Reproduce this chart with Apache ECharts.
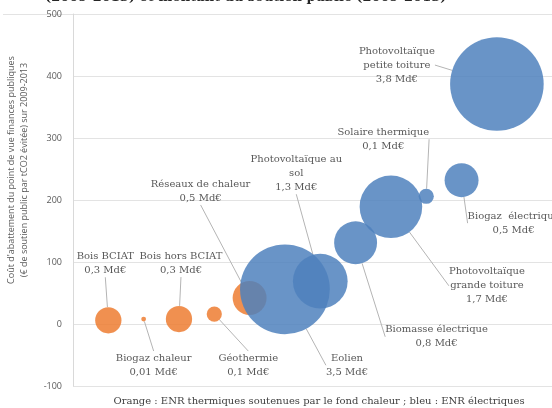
<!DOCTYPE html>
<html>
<head>
<meta charset="utf-8">
<script src="https://cdn.jsdelivr.net/npm/echarts@6/dist/echarts.min.js"></script>
<style>
  html, body { margin: 0; padding: 0; background: #fff; }
  #chart { width: 552px; height: 408px; }
</style>
</head>
<body>
<div id="chart"></div>
<script>
// filières, dans l'ordre de l'axe horizontal
const filieres = [
    'Bois BCIAT', 'Biogaz chaleur', 'Bois hors BCIAT', 'Géothermie', 'Réseaux de chaleur',
    'Eolien', 'Photovoltaïque au\nsol', 'Biomasse électrique', 'Photovoltaïque\ngrande toiture',
    'Solaire thermique', 'Biogaz  électrique', 'Photovoltaïque\npetite toiture'
];
const rang = [1, 2, 3, 4, 5, 6, 7, 8, 9, 10, 11, 12];
// coût d'abattement (€ / tCO2 évitée)
const coutAbattement = [6, 8, 8, 16, 42, 56, 69, 131, 189, 206, 232, 387];
// montant du soutien public (Md€) -> taille des bulles
const montants = [0.3, 0.01, 0.3, 0.1, 0.5, 3.5, 1.3, 0.8, 1.7, 0.1, 0.5, 3.8];
// 'chaleur' = ENR thermiques (orange), 'elec' = ENR électriques (bleu)
const familles = ['chaleur', 'chaleur', 'chaleur', 'chaleur', 'chaleur',
    'elec', 'elec', 'elec', 'elec', 'elec', 'elec', 'elec'];

// décalage des étiquettes par rapport au centre des bulles (px)
const decalages = [
    [-3, -57], [10, 46], [2, -56], [34, 51], [-49, -107], [62, 76],
    [-24, -108], [81, 94], [96, 79], [-43, -57], [52, 43], [-100, -19]
];

const couleurs = { chaleur: '#ED7D31', elec: '#4F81BD' };

const myChart = echarts.init(document.getElementById('chart'));

const donnees = filieres.map(function (nom, i) {
    return {
        name: nom,
        value: [rang[i], coutAbattement[i], montants[i]],
        itemStyle: { color: couleurs[familles[i]] }
    };
});

const option = {
    animation: false,
    title: [
        {
            text: '(2009-2013) et montant du soutien public (2009-2013)',
            left: 40,
            top: -14,
            textStyle: { fontFamily: 'DejaVu Serif', fontSize: 13, fontWeight: 'bold', color: '#262626' }
        },
        {
            text: 'Orange : ENR thermiques soutenues par le fond chaleur ; bleu : ENR électriques',
            left: 314,
            textAlign: 'center',
            top: 391,
            textStyle: { fontFamily: 'DejaVu Serif', fontSize: 10, fontWeight: 'normal', color: '#404040' }
        }
    ],
    graphic: [
        {
            type: 'line',
            shape: { x1: 3, y1: 14.5, x2: 73, y2: 14.5 },
            style: { stroke: '#E3E3E3', lineWidth: 1 }
        },
        {
            type: 'text',
            x: 11, y: 170, rotation: Math.PI / 2,
            style: {
                text: 'Coût d\'abattement du point de vue finances publiques',
                align: 'center', verticalAlign: 'middle',
                font: '9px "Open Sans"', fill: '#595959'
            }
        },
        {
            type: 'text',
            x: 24, y: 170, rotation: Math.PI / 2,
            style: {
                text: '(€ de soutien public par tCO2 évitée) sur 2009-2013',
                align: 'center', verticalAlign: 'middle',
                font: '9px "Open Sans"', fill: '#595959'
            }
        }
    ],
    grid: { left: 73, right: 0, top: 14, bottom: 22 },
    xAxis: {
        type: 'value',
        min: 0,
        max: 13.56,
        axisLine: { show: false },
        axisTick: { show: false },
        axisLabel: { show: false },
        splitLine: { show: false }
    },
    yAxis: {
        type: 'value',
        min: -100,
        max: 500,
        interval: 100,
        axisLine: { show: true, lineStyle: { color: '#D9D9D9' } },
        axisTick: { show: false },
        axisLabel: { fontFamily: 'Open Sans', fontSize: 9, color: '#595959', margin: 11 },
        splitLine: { lineStyle: { color: '#E3E3E3' } }
    },
    series: [
        {
            type: 'scatter',
            data: donnees,
            symbolSize: function (val) {
                return 48 * Math.sqrt(val[2]);
            },
            itemStyle: { opacity: 0.85 },
            label: {
                show: true,
                position: 'inside',
                align: 'center',
                fontFamily: 'DejaVu Serif',
                fontSize: 10,
                lineHeight: 14,
                color: '#3A3A3A',
                formatter: function (p) {
                    return p.name + '\n' + String(p.value[2]).replace('.', ',') + ' Md€';
                }
            },
            labelLine: {
                show: true,
                lineStyle: { color: '#B4B4B4', width: 1 }
            },
            labelLayout: function (p) {
                const d = decalages[p.dataIndex];
                return { dx: d[0], dy: d[1] };
            },
            emphasis: { disabled: true }
        }
    ]
};

myChart.setOption(option);
</script>
</body>
</html>
